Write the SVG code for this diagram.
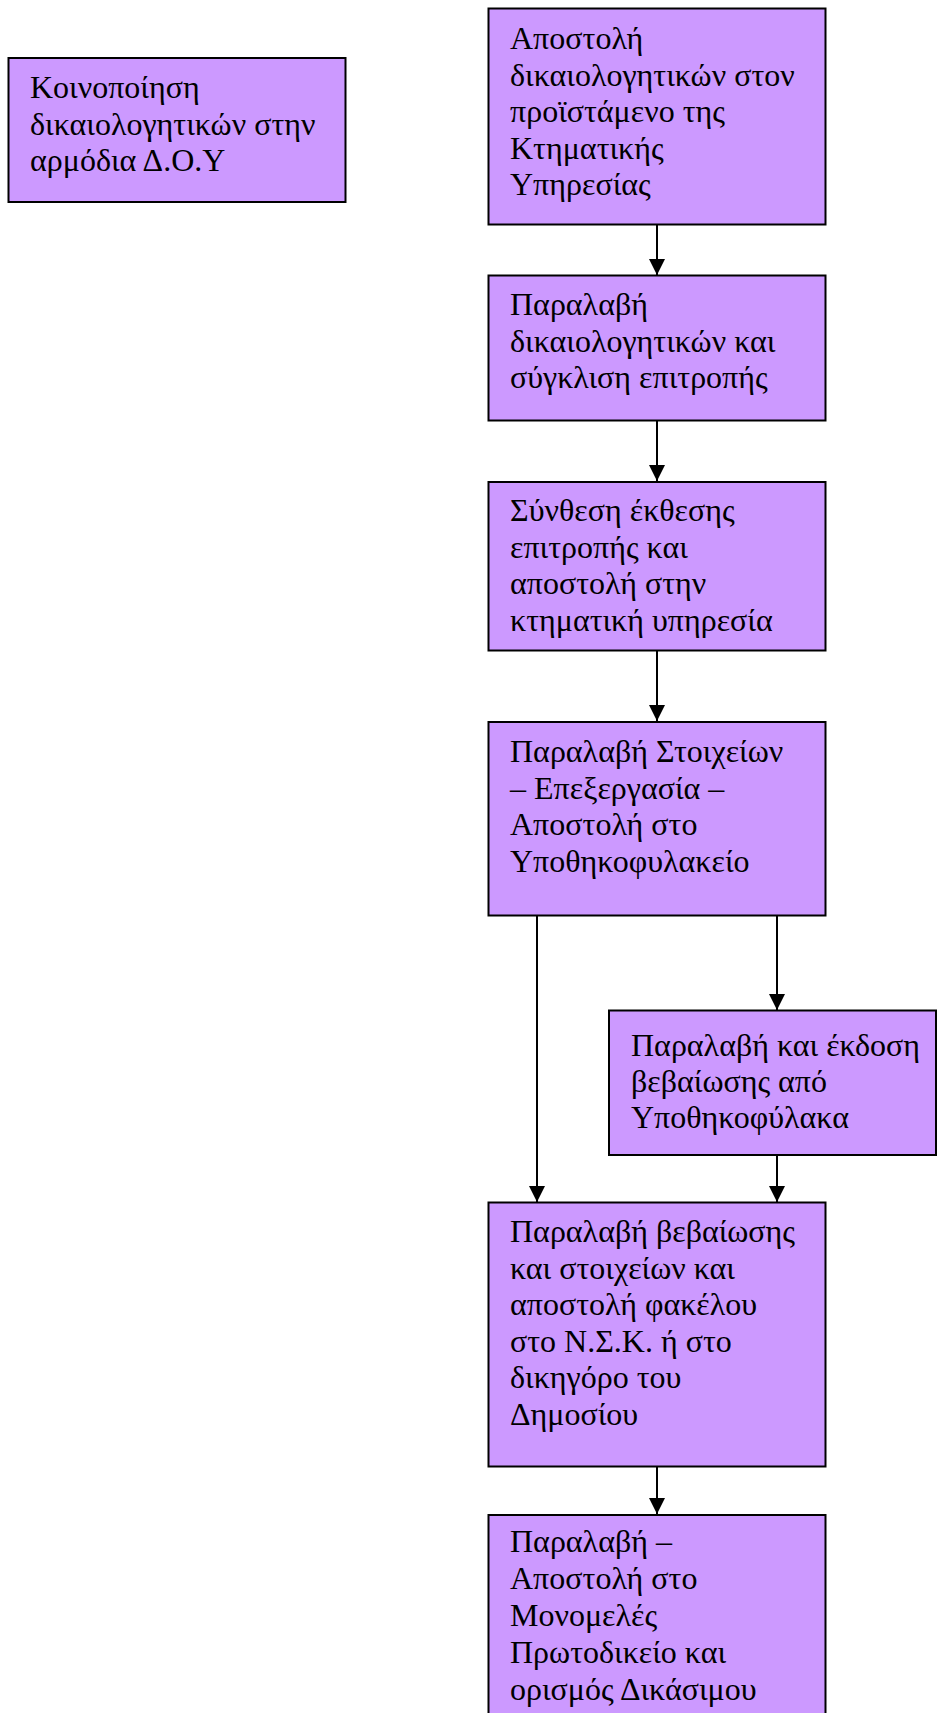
<svg xmlns="http://www.w3.org/2000/svg" width="937" height="1713" viewBox="0 0 937 1713">
  <defs>
    <style>
      .box { fill: #CC99FF; stroke: #000; stroke-width: 2; }
      .lbl { font-family: "Liberation Serif", "Times New Roman", serif; font-size: 32px; fill: #000; }
      .edge { stroke: #000; stroke-width: 2; fill: none; marker-end: url(#arrow); }
    </style>
    <marker id="arrow" markerWidth="16" markerHeight="16" refX="16" refY="8" orient="auto" markerUnits="userSpaceOnUse">
      <path d="M0,0 L16,8 L0,16 Z" fill="#000"/>
    </marker>
  </defs>

  <rect width="937" height="1713" fill="#fff"/>

  <!-- connectors -->
  <g id="connectors">
    <line class="edge" x1="657" y1="225" x2="657" y2="275"/>
    <line class="edge" x1="657" y1="421" x2="657" y2="481"/>
    <line class="edge" x1="657" y1="651" x2="657" y2="721"/>
    <line class="edge" x1="537" y1="916" x2="537" y2="1202"/>
    <line class="edge" x1="777" y1="916" x2="777" y2="1010"/>
    <line class="edge" x1="777" y1="1156" x2="777" y2="1202"/>
    <line class="edge" x1="657" y1="1467" x2="657" y2="1514"/>
  </g>

  <g id="notify-tax-office">
    <rect class="box" x="8.5" y="58" width="337" height="144"/>
    <text class="lbl" x="30" y="98">
      <tspan x="30">Κοινοποίηση</tspan>
      <tspan x="30" dy="36.5">δικαιολογητικών στην</tspan>
      <tspan x="30" dy="36.5">αρμόδια Δ.Ο.Υ</tspan>
    </text>
  </g>

  <g id="send-documents">
    <rect class="box" x="488.5" y="8.5" width="337" height="216"/>
    <text class="lbl" x="510" y="49">
      <tspan x="510">Αποστολή</tspan>
      <tspan x="510" dy="36.5">δικαιολογητικών στον</tspan>
      <tspan x="510" dy="36.5">προϊστάμενο της</tspan>
      <tspan x="510" dy="36.5">Κτηματικής</tspan>
      <tspan x="510" dy="36.5">Υπηρεσίας</tspan>
    </text>
  </g>

  <g id="receive-documents">
    <rect class="box" x="488.5" y="275.5" width="337" height="145"/>
    <text class="lbl" x="510" y="315">
      <tspan x="510">Παραλαβή</tspan>
      <tspan x="510" dy="36.5">δικαιολογητικών και</tspan>
      <tspan x="510" dy="36.5">σύγκλιση επιτροπής</tspan>
    </text>
  </g>

  <g id="committee-report">
    <rect class="box" x="488.5" y="482" width="337" height="168.5"/>
    <text class="lbl" x="510" y="521">
      <tspan x="510">Σύνθεση έκθεσης</tspan>
      <tspan x="510" dy="36.5">επιτροπής και</tspan>
      <tspan x="510" dy="36.5">αποστολή στην</tspan>
      <tspan x="510" dy="36.5">κτηματική υπηρεσία</tspan>
    </text>
  </g>

  <g id="process-data">
    <rect class="box" x="488.5" y="722" width="337" height="193.5"/>
    <text class="lbl" x="510" y="762">
      <tspan x="510">Παραλαβή Στοιχείων</tspan>
      <tspan x="510" dy="36.5">– Επεξεργασία –</tspan>
      <tspan x="510" dy="36.5">Αποστολή στο</tspan>
      <tspan x="510" dy="36.5">Υποθηκοφυλακείο</tspan>
    </text>
  </g>

  <g id="mortgage-certificate">
    <rect class="box" x="609" y="1010.5" width="327" height="144.5"/>
    <text class="lbl" x="631" y="1056">
      <tspan x="631">Παραλαβή και έκδοση</tspan>
      <tspan x="631" dy="36">βεβαίωσης από</tspan>
      <tspan x="631" dy="36">Υποθηκοφύλακα</tspan>
    </text>
  </g>

  <g id="forward-file">
    <rect class="box" x="488.5" y="1202.5" width="337" height="264"/>
    <text class="lbl" x="510" y="1242">
      <tspan x="510">Παραλαβή βεβαίωσης</tspan>
      <tspan x="510" dy="36.6">και στοιχείων και</tspan>
      <tspan x="510" dy="36.6">αποστολή φακέλου</tspan>
      <tspan x="510" dy="36.6">στο Ν.Σ.Κ. ή στο</tspan>
      <tspan x="510" dy="36.6">δικηγόρο του</tspan>
      <tspan x="510" dy="36.6">Δημοσίου</tspan>
    </text>
  </g>

  <g id="court-hearing">
    <rect class="box" x="488.5" y="1515" width="337" height="230"/>
    <text class="lbl" x="510" y="1552">
      <tspan x="510">Παραλαβή –</tspan>
      <tspan x="510" dy="37">Αποστολή στο</tspan>
      <tspan x="510" dy="37">Μονομελές</tspan>
      <tspan x="510" dy="37">Πρωτοδικείο και</tspan>
      <tspan x="510" dy="37">ορισμός Δικάσιμου</tspan>
    </text>
  </g>
</svg>
